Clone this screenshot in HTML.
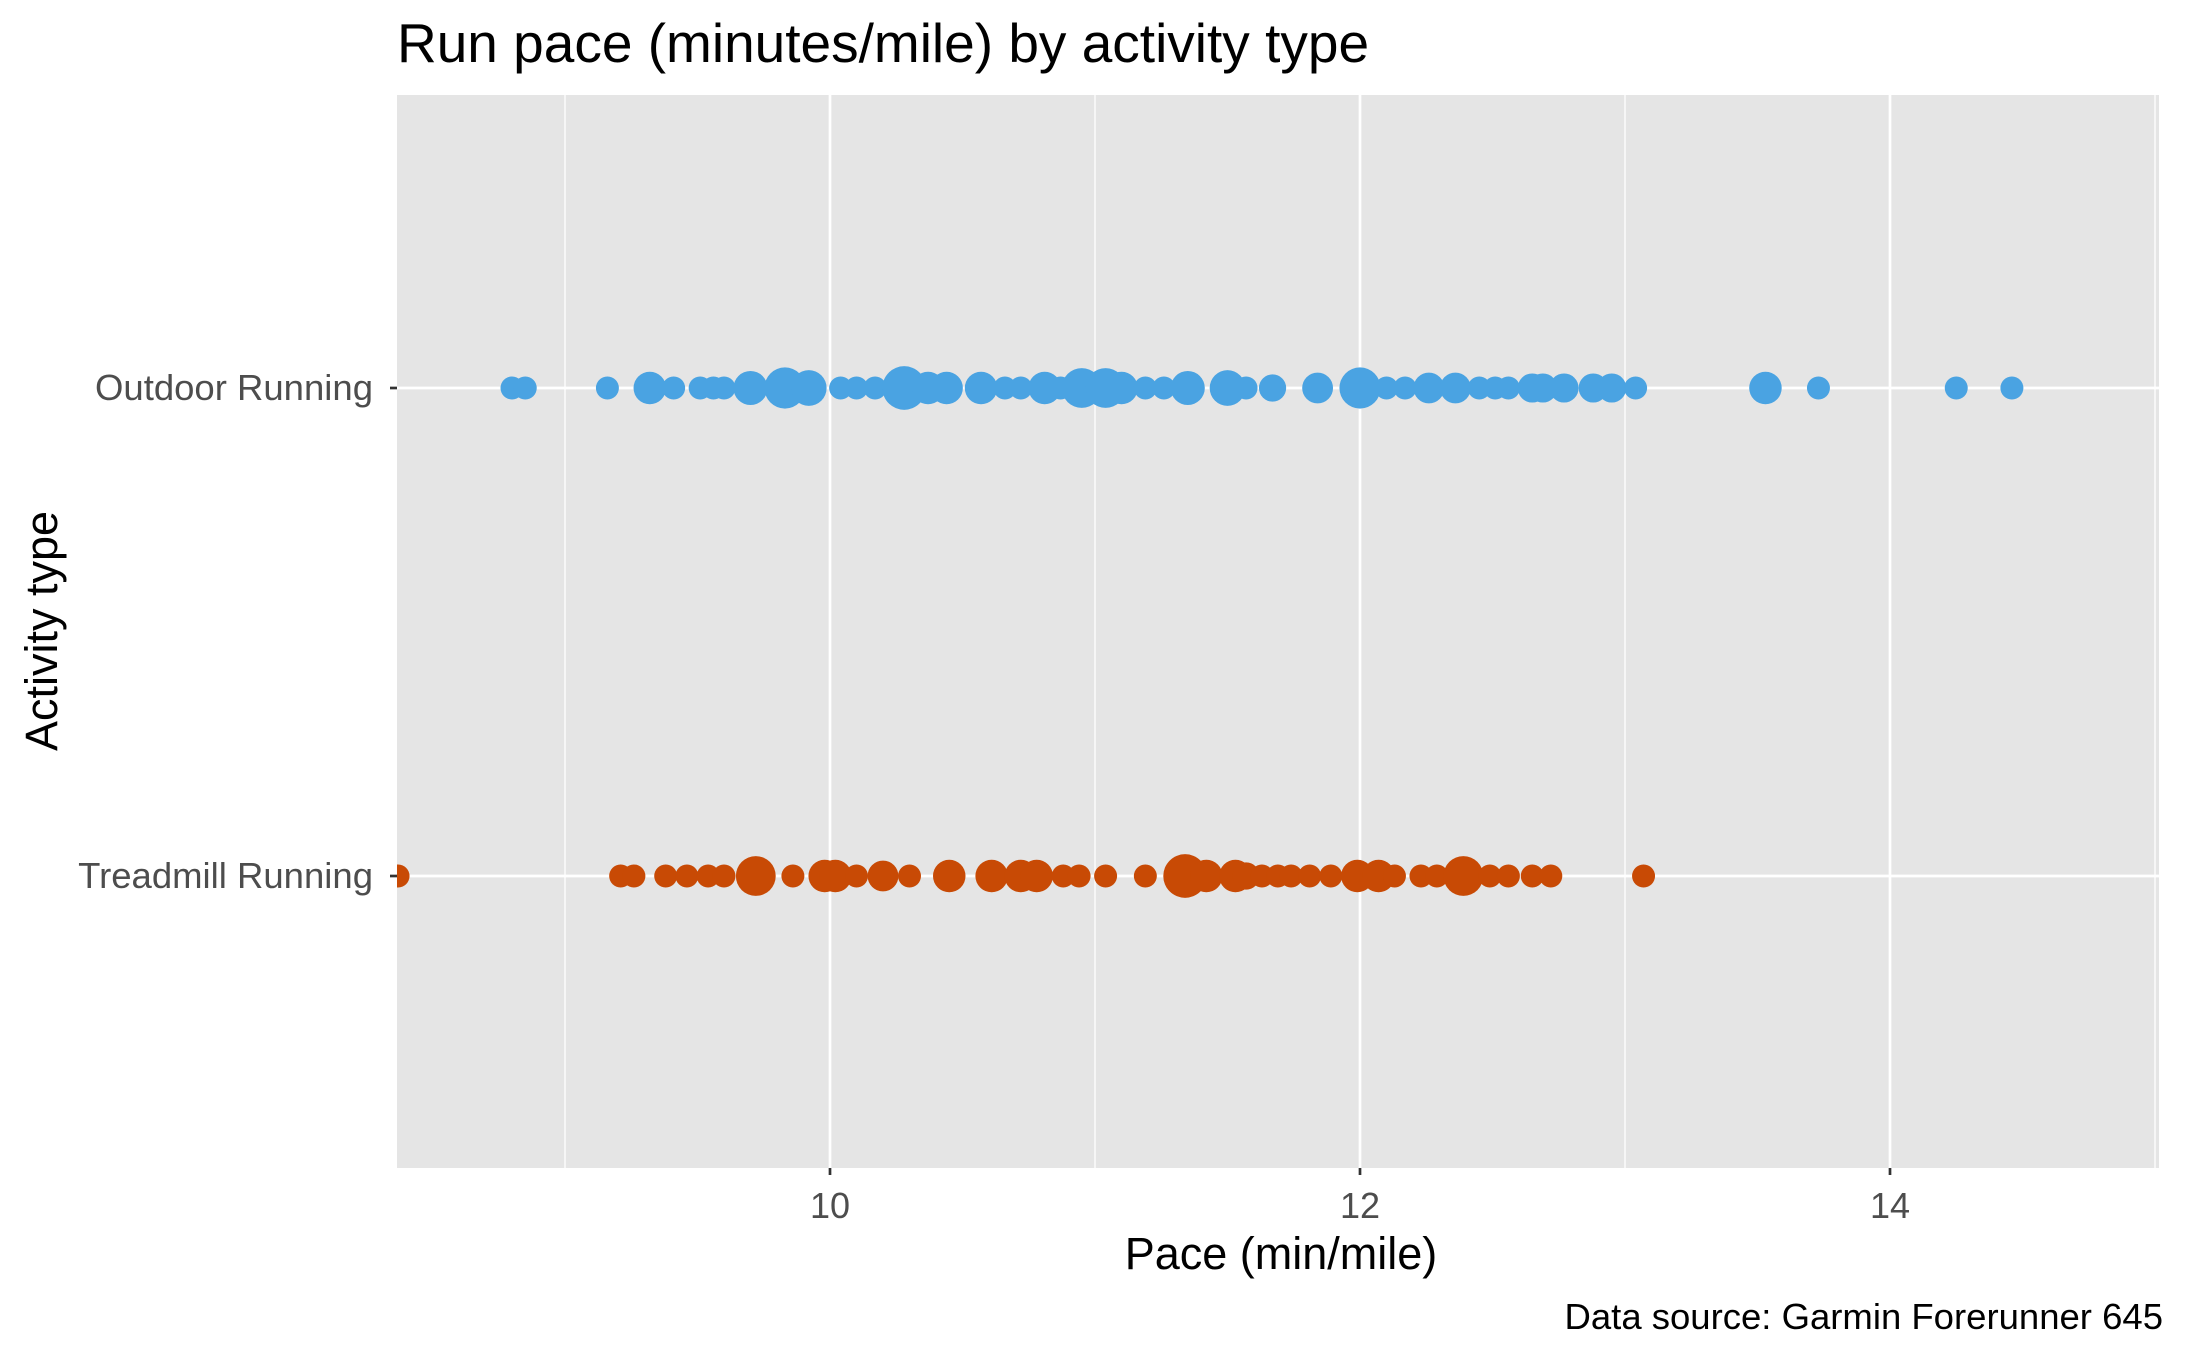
<!DOCTYPE html>
<html><head><meta charset="utf-8"><style>
body{margin:0;background:#fff}
svg{display:block;font-family:"Liberation Sans",Arial,sans-serif}
</style></head><body>
<svg id="chart" width="2187" height="1351" viewBox="0 0 2187 1351" xmlns="http://www.w3.org/2000/svg">
<rect x="0" y="0" width="2187" height="1351" fill="#fff"/>
<rect x="397" y="95" width="1762" height="1073" fill="#e5e5e5"/>
<g id="grid"></g>
<g id="points"></g>
<g id="axes"></g>
<text x="397" y="62" font-size="55" fill="#000">Run pace (minutes/mile) by activity type</text>
<text x="1281" y="1269" font-size="45" text-anchor="middle" fill="#000">Pace (min/mile)</text>
<text transform="translate(57,631) rotate(-90)" font-size="45" text-anchor="middle" fill="#000">Activity type</text>
<text x="2163" y="1329" font-size="36.5" text-anchor="end" fill="#000">Data source: Garmin Forerunner 645</text>
</svg>
<script>
const categories = ["Outdoor Running", "Treadmill Running"];
const xTicks = [10, 12, 14];
const xMinor = [9, 11, 13, 15];
const outdoorPace = [8.80,8.85,9.16,9.32,9.41,9.51,9.56,9.60,9.70,9.83,9.92,10.04,10.10,10.17,10.28,10.37,10.44,10.57,10.66,10.72,10.81,10.87,10.95,11.04,11.10,11.19,11.26,11.35,11.50,11.57,11.67,11.84,12.00,12.10,12.17,12.26,12.36,12.45,12.51,12.56,12.65,12.69,12.77,12.88,12.95,13.04,13.53,13.73,14.25,14.46];
const outdoorSize = [1,1,1,2,1,1,1,1,2.2,3.2,2.4,1,1,1,3.6,2,2,2,1,1,2,1,3,3,2,1,1,2.2,2.4,1,1.4,1.8,3.2,1,1,1.8,1.8,1,1,1,1.6,1.6,1.6,1.6,1.6,1,2,1,1,1];
const treadPace = [8.37,9.21,9.26,9.38,9.46,9.54,9.60,9.72,9.86,9.98,10.02,10.10,10.20,10.30,10.45,10.61,10.72,10.78,10.88,10.94,11.04,11.19,11.34,11.42,11.53,11.57,11.63,11.69,11.74,11.81,11.89,11.99,12.07,12.13,12.23,12.29,12.39,12.49,12.56,12.65,12.72,13.07];
const treadSize = [1,1,1,1,1,1,1,3,1,2,2,1,1.8,1,2,2,2,2,1,1,1,1,3.6,2,2,1.4,1,1,1,1,1,2,2,1,1,1,3,1,1,1,1,1];

const NS="http://www.w3.org/2000/svg";
const PL=397, PR=2159, PT=95, PB=1168;
const xScale = v => 830 + (v-10)*265;
const yScale = i => [388, 876][i];
const rScale = s => 11.5*Math.sqrt(s);
function mk(tag, attrs, parent){const e=document.createElementNS(NS,tag);for(const k in attrs)e.setAttribute(k,attrs[k]);parent.appendChild(e);return e;}
const grid=document.getElementById('grid'), pts=document.getElementById('points'), axes=document.getElementById('axes');
xMinor.forEach(v=>{const x=xScale(v);if(x>PL&&x<PR){const l=mk('line',{x1:x,x2:x,y1:PT,y2:PB,stroke:'#fff','stroke-width':1.3},grid);

}});
xTicks.forEach(v=>{const x=xScale(v);const l=mk('line',{x1:x,x2:x,y1:PT,y2:PB,stroke:'#fff','stroke-width':2.7},grid);


const t=mk('line',{x1:x,x2:x,y1:PB,y2:PB+7,stroke:'#333','stroke-width':2.7},axes);


const tx=mk('text',{x:x,y:PB+50,'font-size':36,'text-anchor':'middle',fill:'#4d4d4d'},axes);tx.textContent=v;

});
categories.forEach((c,i)=>{const y=yScale(i);const l=mk('line',{x1:PL,x2:PR,y1:y,y2:y,stroke:'#fff','stroke-width':2.7},grid);


const t=mk('line',{x1:PL-7,x2:PL,y1:y,y2:y,stroke:'#333','stroke-width':2.7},axes);


const tx=mk('text',{x:PL-24,y:y+12,'font-size':36.5,'text-anchor':'end',fill:'#4d4d4d'},axes);tx.textContent=c;

});
function drawSeries(pace,size,i,color,name){pace.forEach((v,j)=>{const c=mk('circle',{cx:xScale(v),cy:yScale(i),r:rScale(size[j]),fill:color},pts);

});}
const clip=mk('clipPath',{id:'pc'},document.getElementById('chart'));
mk('rect',{x:PL,y:PT,width:PR-PL,height:PB-PT},clip);
pts.setAttribute('clip-path','url(#pc)');
drawSeries(outdoorPace,outdoorSize,0,'#4aa3e2','outdoor-point');
drawSeries(treadPace,treadSize,1,'#c84a05','treadmill-point');
</script>
</body></html>
